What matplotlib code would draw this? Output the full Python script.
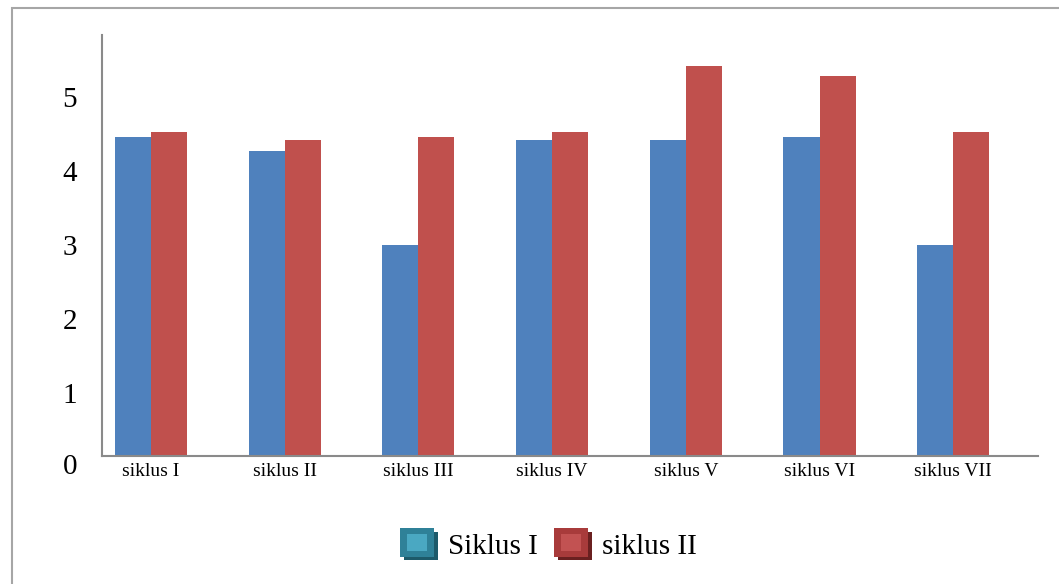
import matplotlib
matplotlib.use('Agg')
import matplotlib.pyplot as plt
import numpy as np
from matplotlib.patches import Patch, Rectangle
from matplotlib.legend_handler import HandlerBase

plt.rcParams['font.family'] = ['Liberation Serif', 'DejaVu Serif']

# data
categories = ['siklus I', 'siklus II', 'siklus III', 'siklus IV', 'siklus V', 'siklus VI', 'siklus VII']
siklus_1 = [4.46, 4.27, 3.0, 4.42, 4.42, 4.46, 3.0]
siklus_2 = [4.53, 4.42, 4.46, 4.53, 5.42, 5.28, 4.53]
y_ticks = [1, 2, 3, 4, 5]


class BoxHandler(HandlerBase):
    '''Legend key drawn as a small bevelled box with a drop shadow'''
    def __init__(self, main, inner, shadow):
        super().__init__()
        self.main, self.inner, self.shadow = main, inner, shadow

    def create_artists(self, legend, orig_handle, xdescent, ydescent,
                       width, height, fontsize, trans):
        x0, y0 = -xdescent, -ydescent
        w, h = width * 0.9, height * 0.9
        dx, dy = width * 0.1, height * 0.1
        sh = Rectangle((x0 + dx, y0), w, h, fc=self.shadow, ec='none', transform=trans)
        mn = Rectangle((x0, y0 + dy), w, h, fc=self.main, ec='none', transform=trans)
        inn = Rectangle((x0 + w * 0.2, y0 + dy + h * 0.2), w * 0.6, h * 0.6,
                        fc=self.inner, ec='none', transform=trans)
        return [sh, mn, inn]


fig = plt.figure(figsize=(10.59, 5.84), dpi=100)
ax = fig.add_axes([0.0963, 0.2192, 0.8839, 0.7208])

x = np.arange(len(categories))
w = 0.27
ax.bar(x - w / 2, siklus_1, w, color='#4f81bd', label='Siklus I')
ax.bar(x + w / 2, siklus_2, w, color='#c0504d', label='siklus II')

# groups sit a little left of their slots in the original
ax.set_xlim(-0.366, 6.634)
ax.set_ylim(0.15, 5.84)
ax.set_xticks(x)
ax.set_xticklabels(categories, fontsize=14)
ax.set_yticks(y_ticks)
ax.set_yticklabels([str(t) for t in y_ticks], fontsize=21)
ax.tick_params(axis='x', length=0, pad=5)
ax.tick_params(axis='y', length=0, pad=18)
# the zero label sits below the baseline in the original
ax.text(-0.0267, 0, '0', transform=ax.get_yaxis_transform(),
        ha='right', va='center', fontsize=21, clip_on=False)

for s in ['top', 'right']:
    ax.spines[s].set_visible(False)
for s in ['left', 'bottom']:
    ax.spines[s].set_color('#8a8a8a')
    ax.spines[s].set_linewidth(1.5)

h1 = Patch(label='Siklus I')
h2 = Patch(label='siklus II')
fig.legend(handles=[h1, h2], loc='center', bbox_to_anchor=(0.518, 0.068), ncol=2,
           frameon=False, fontsize=21, handlelength=1.3, handleheight=1.3,
           handletextpad=0.35, columnspacing=0.55,
           handler_map={h1: BoxHandler('#2f8198', '#4aa8c2', '#1d5a6a'),
                        h2: BoxHandler('#a83b3b', '#c25252', '#6a2020')})

# outer chart border
fig.patches.append(Rectangle((0.0113, -0.05), 1.0, 1.036, transform=fig.transFigure,
                             fill=False, ec='#a6a6a6', lw=1.5))

plt.savefig('out.png', dpi=100)
